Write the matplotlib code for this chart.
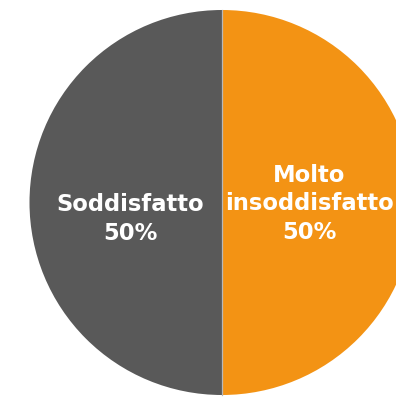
import matplotlib
matplotlib.use("Agg")
import matplotlib.pyplot as plt

labels = ["Molto\ninsoddisfatto", "Soddisfatto"]
values = [50, 50]
colors = ["#F39314", "#595959"]

W, H = 396, 397
fig = plt.figure(figsize=(W / 100, H / 100), dpi=100)
ax = fig.add_axes([0, 0, 1, 1])

cx, cy, r = 222, H - 202.5, 192.5
wedges, _ = ax.pie(values, colors=colors, startangle=90, counterclock=False,
                   center=(cx, cy), radius=r, frame=True,
                   wedgeprops=dict(linewidth=0))
# thin divider between the two halves
ax.plot([cx, cx], [cy - r, cy + r], color="#b8b8b8", linewidth=0.9)

ax.set_xlim(0, W)
ax.set_ylim(0, H)
ax.set_aspect("equal")
ax.axis("off")

total = sum(values)
label_pos = [(309.5, H - 204), (130.5, H - 219)]
for lab, v, (x, y) in zip(labels, values, label_pos):
    ax.text(x, y, f"{lab}\n{v / total * 100:.0f}%", ha="center", va="center",
            multialignment="center", color="white", fontsize=16.3,
            fontweight="bold", family="DejaVu Sans", linespacing=1.3)

fig.savefig("out.png", dpi=100)
